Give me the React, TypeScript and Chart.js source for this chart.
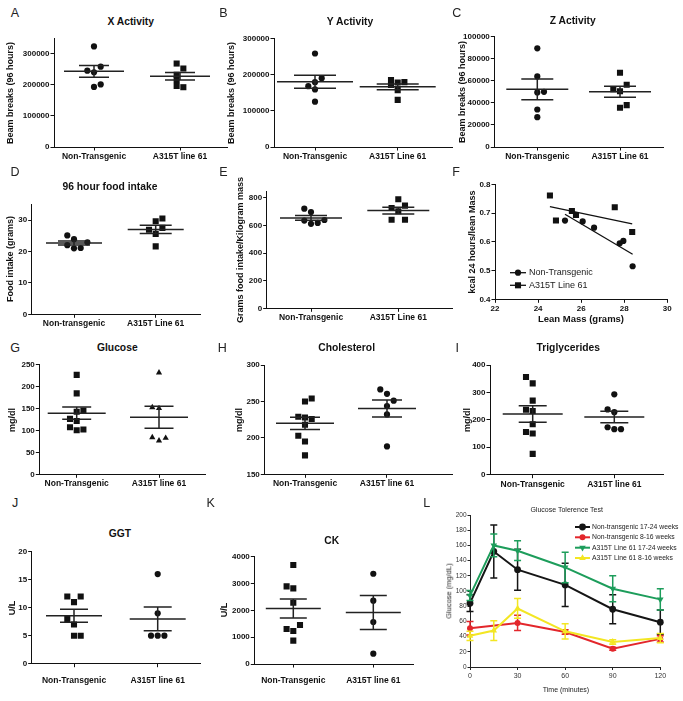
import React, { useEffect, useRef } from 'react';
import { Chart, registerables } from 'chart.js';
import { drawPoint } from 'chart.js/helpers';
Chart.register(...registerables);

const FONT = "'Liberation Sans', Arial, Helvetica, sans-serif";
const INK = '#111';

// ---------------- DATA ----------------
// A: X Activity
const xActLabels = ['Non-Transgenic', 'A315T line 61'];
const xActTicks = [0, 100000, 200000, 300000];
const xActNonTg = [323000, 258000, 245000, 240000, 201000, 193000];
const xActNonTgJit = [0, 1, -1, 0, 1, 0];
const xActTg = [268000, 252000, 232000, 215000, 196000, 192000];
const xActTgJit = [-0.5, 0.5, -0.5, -0.5, -0.5, 0.5];
const xActMean = [243000, 227000];
const xActSem = [19000, 12000];

// B: Y Activity
const yActLabels = ['Non-Transgenic', 'A315T Line 61'];
const yActTicks = [0, 100000, 200000, 300000];
const yActNonTg = [258000, 190000, 179000, 168000, 159000, 125000];
const yActNonTgJit = [0, 1, 0, -1, 0, 0];
const yActTg = [185000, 178000, 179000, 171000, 157000, 130000];
const yActTgJit = [-1, 0, 1, -1, 0, 0];
const yActMean = [180000, 166000];
const yActSem = [18000, 8000];

// C: Z Activity
const zActLabels = ['Non-Transgenic', 'A315T Line 61'];
const zActTicks = [0, 20000, 40000, 60000, 80000, 100000];
const zActNonTg = [89500, 64000, 49500, 50000, 34000, 27000];
const zActNonTgJit = [0, 0, 0, 1, 0, 0];
const zActTg = [67300, 56500, 52300, 50500, 38000, 35600];
const zActTgJit = [0, 1, -1, 0, 1, 0];
const zActMean = [52300, 50000];
const zActSem = [9400, 5000];

// D: 96 hour food intake
const foodLabels = ['Non-transgenic', 'A315T Line 61'];
const foodTicks = [0, 10, 20, 30];
const foodNonTg = [25.1, 23.9, 22.9, 22.0, 21.1, 21.0];
const foodNonTgJit = [-1, 0, 2, -1, 1, 0];
const foodTg = [30.5, 29.6, 26.9, 27.5, 25.6, 21.6];
const foodTgJit = [1, 0, -1, 1, 0, 0];
const foodMean = [22.7, 27.0];
const foodSem = [0.65, 1.3];

// E: grams food intake / kg mass
const perKgLabels = ['Non-Transgenic', 'A315T Line 61'];
const perKgTicks = [0, 200, 400, 600, 800];
const perKgNonTg = [722, 698, 636, 640, 612, 619];
const perKgNonTgJit = [-1, 0, -1, 2, 0, 1];
const perKgTg = [790, 744, 727, 703, 642, 642];
const perKgTgJit = [0, 1, -1, 0, -1, 1];
const perKgMean = [655, 708];
const perKgSem = [17, 24];

// F: kcal vs lean mass
const leanTicks = [22, 24, 26, 28, 30];
const kcalTicks = [0.4, 0.5, 0.6, 0.7, 0.8];
const leanNonTg = [25.25, 26.07, 26.6, 27.79, 27.96, 28.39];
const kcalNonTg = [0.674, 0.671, 0.649, 0.595, 0.603, 0.515];
const leanTg = [24.55, 24.83, 25.57, 25.76, 27.56, 28.37];
const kcalTg = [0.761, 0.674, 0.707, 0.693, 0.72, 0.634];
const fLegend = ['Non-Transgenic', 'A315T Line 61'];

// G: Glucose
const gluLabels = ['Non-Transgenic', 'A315T line 61'];
const gluTicks = [0, 50, 100, 150, 200, 250];
const gluNonTg = [226, 184, 142, 145, 126, 121, 107, 100, 102];
const gluNonTgJit = [0, 0, 0, 1, -1, 0, -1, 0, 1];
const gluTg = [231, 152, 150, 84, 76.5, 82.5];
const gluTgJit = [0, -1, 0, -1, 0, 1];
const gluMean = [139, 129.5];
const gluSem = [13.7, 25];

// H: Cholesterol
const cholLabels = ['Non-Transgenic', 'A315T line 61'];
const cholTicks = [150, 200, 250, 300];
const cholNonTg = [254, 250, 229, 228, 226, 218, 203, 195, 176];
const cholNonTgJit = [1, 0, -1, 0, 1, 0, -1, 0, 0];
const cholTg = [266.5, 260.5, 251, 243.6, 232.2, 188.3];
const cholTgJit = [-1, 0, 1, 0, 0, 0];
const cholMean = [220, 240.3];
const cholSem = [8.4, 11.5];

// I: Triglycerides
const trigLabels = ['Non-Transgenic', 'A315T line 61'];
const trigTicks = [0, 100, 200, 300, 400];
const trigNonTg = [356, 333, 270, 237, 232, 184, 156, 150, 76];
const trigNonTgJit = [-1, 0, 0, -1, 0, 0, -1, 0, 0];
const trigTg = [293, 238, 228, 173, 166, 166];
const trigTgJit = [0, -1, 0, -1, 0, 1];
const trigMean = [221.6, 210.7];
const trigSem = [30, 21];

// J: GGT
const ggtLabels = ['Non-Transgenic', 'A315T line 61'];
const ggtTicks = [0, 5, 10, 15, 20];
const ggtNonTg = [12, 12, 11, 8, 7, 5, 5];
const ggtNonTgJit = [-1, 1, 0, -1, 0, 0, 1];
const ggtTg = [16, 9, 5, 5, 5];
const ggtTgJit = [0, 0, -1, 0, 1];
const ggtMean = [8.57, 8];
const ggtSem = [1.17, 2.12];

// K: CK
const ckLabels = ['Non-Transgenic', 'A315T line 61'];
const ckTicks = [0, 1000, 2000, 3000, 4000];
const ckNonTg = [3690, 2895, 2820, 2285, 1455, 1305, 1230, 870];
const ckNonTgJit = [0, -1, 0, 0, 1, -1, 0, 0];
const ckTg = [3365, 2360, 1565, 385];
const ckTgJit = [0, 0, 0, 0];
const ckMean = [2069, 1919];
const ckSem = [355, 630];

// L: Glucose tolerance test
const gttTimes = [0, 15, 30, 60, 90, 120];
const gttTimeTicks = [0, 30, 60, 90, 120];
const gttGluTicks = [0, 20, 40, 60, 80, 100, 120, 140, 160, 180, 200];
const gttNames = ['Non-transgenic 17-24 weeks', 'Non-transgenic 8-16 weeks', 'A315T Line 61 17-24 weeks', 'A315T Line 61 8-16 weeks'];
const gttNonTg1724 = [84, 152, 128, 108, 76, 59];
const gttNonTg1724Sem = [11, 35, 27, 28.5, 19, 16];
const gttNonTg816 = [51, null, 58, 46, 24, 37];
const gttNonTg816Sem = [9, null, 10, 3, 2, 4];
const gttTg1724 = [94, 160, 153, 131, 103, 89];
const gttTg1724Sem = [6.5, 15, 13, 20, 17, 14];
const gttTg816 = [41, 48, 77, 47, 33, 38];
const gttTg816Sem = [6, 13, 13, 10, 3, 6];

// ---------------- HELPERS ----------------
function linFit(xs: number[], ys: number[]) {
  const n = xs.length;
  const mx = xs.reduce((a, b) => a + b, 0) / n;
  const my = ys.reduce((a, b) => a + b, 0) / n;
  let sxy = 0, sxx = 0;
  for (let i = 0; i < n; i++) { sxy += (xs[i] - mx) * (ys[i] - my); sxx += (xs[i] - mx) ** 2; }
  const slope = sxy / sxx;
  return { slope, intercept: my - slope * mx, x0: Math.min(...xs), x1: Math.max(...xs) };
}

function radiusFor(style: string) {
  if (style === 'rect') return 4.3;
  if (style === 'triangle') return 3.6;
  return 3.1;
}

type Group = { values: number[]; jitter: number[]; style: string };
type ScatterSpec = {
  canvas: number[]; area: number[]; cats: number[]; labels: string[];
  yMin: number; yMax: number; yTicks: number[]; groups: Group[];
  means: number[]; sems: number[]; meanHalf: number; semHalf: number; labelPad?: number;
};

const tickFont = { family: FONT, size: 8, weight: 'bold' as const };
const catFont = { family: FONT, size: 8.5, weight: 'bold' as const };

function axisBase(extra: any) {
  return {
    grid: { display: true, drawOnChartArea: false, drawTicks: true, tickLength: 3.5, color: INK, lineWidth: 1 },
    border: { display: true, color: INK, width: 1 },
    ...extra,
  };
}

function baseOptions(canvas: number[], area: number[]) {
  return {
    animation: false,
    responsive: false,
    events: [],
    layout: { autoPadding: false, padding: { left: 0, top: area[1] - canvas[1], right: canvas[2] - area[2], bottom: 0 } },
    plugins: { legend: { display: false }, tooltip: { enabled: false }, title: { display: false } },
  };
}

function scatterConfig(s: ScatterSpec) {
  const [cx0, cy0, cx1, cy1] = s.canvas;
  const [al, at, ar, ab] = s.area;
  const u = s.cats[1] - s.cats[0];
  const xmin = (al - s.cats[0]) / u;
  const xmax = 1 + (ar - s.cats[1]) / u;
  const step = 6.7 / u;
  const datasets = s.groups.map((g, gi) => ({
    type: 'scatter',
    data: g.values.map((v, i) => ({ x: gi + g.jitter[i] * step, y: v })),
    pointStyle: g.style,
    pointRadius: radiusFor(g.style),
    pointBackgroundColor: INK,
    pointBorderColor: INK,
    pointBorderWidth: 0,
  }));
  const meanSem = {
    id: 'meanSem',
    afterDatasetsDraw(chart: any) {
      const { ctx, scales } = chart;
      const x = scales.x, y = scales.y;
      ctx.save();
      ctx.strokeStyle = '#222';
      ctx.lineWidth = 1.5;
      s.means.forEach((m, i) => {
        const px = x.getPixelForValue(i);
        const ym = y.getPixelForValue(m);
        const yu = y.getPixelForValue(m + s.sems[i]);
        const yl = y.getPixelForValue(m - s.sems[i]);
        ctx.beginPath();
        ctx.moveTo(px - s.meanHalf, ym); ctx.lineTo(px + s.meanHalf, ym);
        ctx.moveTo(px - s.semHalf, yu); ctx.lineTo(px + s.semHalf, yu);
        ctx.moveTo(px - s.semHalf, yl); ctx.lineTo(px + s.semHalf, yl);
        ctx.moveTo(px, yu); ctx.lineTo(px, yl);
        ctx.stroke();
      });
      ctx.restore();
    },
  };
  return {
    type: 'scatter',
    data: { datasets },
    options: {
      ...baseOptions(s.canvas, s.area),
      scales: {
        x: axisBase({
          type: 'linear', min: xmin, max: xmax,
          afterBuildTicks: (sc: any) => { sc.ticks = [{ value: 0 }, { value: 1 }]; },
          ticks: { callback: (_v: any, i: number) => s.labels[i], font: catFont, color: INK, padding: s.labelPad ?? 1, maxRotation: 0, autoSkip: false },
          afterFit: (sc: any) => { sc.height = cy1 - ab; },
        }),
        y: axisBase({
          type: 'linear', min: s.yMin, max: s.yMax,
          afterBuildTicks: (sc: any) => { sc.ticks = s.yTicks.map((v) => ({ value: v })); },
          ticks: { callback: (_v: any, i: number) => String(s.yTicks[i]), font: tickFont, color: INK, padding: 1, autoSkip: false },
          afterFit: (sc: any) => { sc.width = al - cx0; },
        }),
      },
    },
    plugins: [meanSem],
  };
}

type LegendItem = { label: string; style: string; color: string; rotation?: number; radius: number; lineWidth: number };
function legendPlugin(canvas: number[], items: LegendItem[], x0: number, x1: number, textX: number, ys: number[], font: any, textColor: string) {
  return {
    id: 'innerLegend',
    afterDraw(chart: any) {
      const ctx = chart.ctx;
      ctx.save();
      items.forEach((it, i) => {
        const y = ys[i] - canvas[1];
        const a = x0 - canvas[0], b = x1 - canvas[0];
        ctx.strokeStyle = it.color;
        ctx.lineWidth = it.lineWidth;
        ctx.beginPath(); ctx.moveTo(a, y); ctx.lineTo(b, y); ctx.stroke();
        ctx.fillStyle = it.color;
        drawPoint(ctx, { pointStyle: it.style, radius: it.radius, rotation: it.rotation || 0, borderWidth: 0 } as any, (a + b) / 2, y);
        ctx.fillStyle = textColor;
        ctx.font = `${font.weight || 'normal'} ${font.size}px ${FONT}`;
        ctx.textBaseline = 'middle';
        ctx.textAlign = 'left';
        ctx.fillText(it.label, textX - canvas[0], y);
      });
      ctx.restore();
    },
  };
}

function leanConfig() {
  const canvas = [456, 175, 683, 330];
  const area = [495, 184.3, 667.3, 299.3];
  const fitN = linFit(leanNonTg, kcalNonTg);
  const fitT = linFit(leanTg, kcalTg);
  const lineOf = (f: any) => [{ x: f.x0, y: f.intercept + f.slope * f.x0 }, { x: f.x1, y: f.intercept + f.slope * f.x1 }];
  return {
    type: 'scatter',
    data: {
      datasets: [
        { type: 'scatter', data: leanNonTg.map((x, i) => ({ x, y: kcalNonTg[i] })), pointStyle: 'circle', pointRadius: 3.1, pointBackgroundColor: INK, pointBorderWidth: 0 },
        { type: 'scatter', data: leanTg.map((x, i) => ({ x, y: kcalTg[i] })), pointStyle: 'rect', pointRadius: 4.3, pointBackgroundColor: INK, pointBorderWidth: 0 },
        { type: 'line', data: lineOf(fitN), borderColor: INK, borderWidth: 1.3, pointRadius: 0, showLine: true },
        { type: 'line', data: lineOf(fitT), borderColor: INK, borderWidth: 1.3, pointRadius: 0, showLine: true },
      ],
    },
    options: {
      ...baseOptions(canvas, area),
      scales: {
        x: axisBase({
          type: 'linear', min: leanTicks[0], max: leanTicks[leanTicks.length - 1],
          afterBuildTicks: (sc: any) => { sc.ticks = leanTicks.map((v) => ({ value: v })); },
          ticks: { callback: (_v: any, i: number) => String(leanTicks[i]), font: tickFont, color: INK, padding: 1, maxRotation: 0 },
          afterFit: (sc: any) => { sc.height = canvas[3] - area[3]; },
        }),
        y: axisBase({
          type: 'linear', min: kcalTicks[0], max: kcalTicks[kcalTicks.length - 1],
          afterBuildTicks: (sc: any) => { sc.ticks = kcalTicks.map((v) => ({ value: v })); },
          ticks: { callback: (_v: any, i: number) => String(kcalTicks[i]), font: tickFont, color: INK, padding: 1 },
          afterFit: (sc: any) => { sc.width = area[0] - canvas[0]; },
        }),
      },
    },
    plugins: [legendPlugin(canvas, [
      { label: fLegend[0], style: 'circle', color: INK, radius: 3.1, lineWidth: 1.3 },
      { label: fLegend[1], style: 'rect', color: INK, radius: 4.3, lineWidth: 1.3 },
    ], 510, 526, 529, [272.7, 285.3], { size: 9, weight: 'normal' }, '#222')],
  };
}

const GTT_COLORS = ['#151515', '#e3262b', '#1d9d5b', '#f3e623'];
const GTT_STYLES = [
  { style: 'circle', rotation: 0, radius: 3.4 },
  { style: 'circle', rotation: 0, radius: 3 },
  { style: 'triangle', rotation: 180, radius: 3.8 },
  { style: 'triangle', rotation: 0, radius: 3.8 },
];

function gttConfig() {
  const canvas = [440, 505, 683, 700];
  const area = [470, 515, 660.3, 667];
  const series = [gttNonTg1724, gttNonTg816, gttTg1724, gttTg816];
  const sems = [gttNonTg1724Sem, gttNonTg816Sem, gttTg1724Sem, gttTg816Sem];
  const order = [3, 2, 1, 0];
  const datasets = series.map((vals, k) => ({
    type: 'line',
    label: gttNames[k],
    data: gttTimes.map((t, i) => ({ x: t, y: vals[i] })),
    borderColor: GTT_COLORS[k],
    backgroundColor: GTT_COLORS[k],
    borderWidth: 2,
    pointStyle: GTT_STYLES[k].style,
    pointRotation: GTT_STYLES[k].rotation,
    pointRadius: GTT_STYLES[k].radius,
    pointBackgroundColor: GTT_COLORS[k],
    pointBorderColor: GTT_COLORS[k],
    pointBorderWidth: 0,
    spanGaps: true,
    order: order[k],
    tension: 0,
  }));
  const errPlugin = {
    id: 'errBars',
    beforeDatasetDraw(chart: any, args: any) {
      const k = args.index;
      const { ctx, scales } = chart;
      ctx.save();
      ctx.strokeStyle = GTT_COLORS[k];
      ctx.lineWidth = 1.5;
      gttTimes.forEach((t, i) => {
        const v = series[k][i];
        const e = sems[k][i];
        if (v == null || e == null) return;
        const px = scales.x.getPixelForValue(t);
        const yu = scales.y.getPixelForValue(v + e);
        const yl = scales.y.getPixelForValue(v - e);
        ctx.beginPath();
        ctx.moveTo(px, yu); ctx.lineTo(px, yl);
        ctx.moveTo(px - 3.5, yu); ctx.lineTo(px + 3.5, yu);
        ctx.moveTo(px - 3.5, yl); ctx.lineTo(px + 3.5, yl);
        ctx.stroke();
      });
      ctx.restore();
    },
  };
  const lf = { family: FONT, size: 6.5, weight: 'normal' as const };
  return {
    type: 'line',
    data: { datasets },
    options: {
      ...baseOptions(canvas, area),
      clip: false,
      scales: {
        x: axisBase({
          type: 'linear', min: 0, max: 120,
          afterBuildTicks: (sc: any) => { sc.ticks = gttTimeTicks.map((v) => ({ value: v })); },
          ticks: { callback: (_v: any, i: number) => String(gttTimeTicks[i]), font: { ...lf, size: 7 }, color: '#333', padding: 2, maxRotation: 0 },
          grid: { display: true, drawOnChartArea: false, tickLength: 3, color: '#222', lineWidth: 1 },
          border: { display: true, color: '#222', width: 1 },
          afterFit: (sc: any) => { sc.height = canvas[3] - area[3]; },
        }),
        y: axisBase({
          type: 'linear', min: 0, max: 200,
          afterBuildTicks: (sc: any) => { sc.ticks = gttGluTicks.map((v) => ({ value: v })); },
          ticks: { callback: (_v: any, i: number) => String(gttGluTicks[i]), font: lf, color: '#333', padding: 1 },
          grid: { display: true, drawOnChartArea: false, tickLength: 2.5, color: '#222', lineWidth: 1 },
          border: { display: true, color: '#222', width: 1 },
          afterFit: (sc: any) => { sc.width = area[0] - canvas[0]; },
        }),
      },
    },
    plugins: [errPlugin, legendPlugin(canvas, gttNames.map((n, k) => ({
      label: n, style: GTT_STYLES[k].style, rotation: GTT_STYLES[k].rotation, color: GTT_COLORS[k], radius: GTT_STYLES[k].radius, lineWidth: 2,
    })), 575, 590, 592, [527, 537.3, 547.7, 558], { size: 6.8, weight: 'normal' }, '#222')],
  };
}

// ---------------- PANELS ----------------
const panels: ScatterSpec[] = [
  { canvas: [0, 28, 235, 165], area: [54, 38, 227, 147], cats: [94, 180], labels: xActLabels, yMin: 0, yMax: 350000, yTicks: xActTicks,
    groups: [{ values: xActNonTg, jitter: xActNonTgJit, style: 'circle' }, { values: xActTg, jitter: xActTgJit, style: 'rect' }],
    means: xActMean, sems: xActSem, meanHalf: 30, semHalf: 15 },
  { canvas: [226, 28, 458, 165], area: [274, 38.3, 452, 147], cats: [315, 397.7], labels: yActLabels, yMin: 0, yMax: 300000, yTicks: yActTicks,
    groups: [{ values: yActNonTg, jitter: yActNonTgJit, style: 'circle' }, { values: yActTg, jitter: yActTgJit, style: 'rect' }],
    means: yActMean, sems: yActSem, meanHalf: 38, semHalf: 21 },
  { canvas: [456, 28, 683, 165], area: [494.3, 36.7, 663, 147], cats: [537.3, 620], labels: zActLabels, yMin: 0, yMax: 100000, yTicks: zActTicks,
    groups: [{ values: zActNonTg, jitter: zActNonTgJit, style: 'circle' }, { values: zActTg, jitter: zActTgJit, style: 'rect' }],
    means: zActMean, sems: zActSem, meanHalf: 31, semHalf: 16 },
  { canvas: [0, 195, 235, 332], area: [31.7, 204.3, 200, 314.3], cats: [74, 155.7], labels: foodLabels, yMin: 0, yMax: 35, yTicks: foodTicks,
    groups: [{ values: foodNonTg, jitter: foodNonTgJit, style: 'circle' }, { values: foodTg, jitter: foodTgJit, style: 'rect' }],
    means: foodMean, sems: foodSem, meanHalf: 28, semHalf: 16 },
  { canvas: [226, 180, 458, 326], area: [266.7, 191, 452, 308.3], cats: [311, 398.3], labels: perKgLabels, yMin: 0, yMax: 850, yTicks: perKgTicks,
    groups: [{ values: perKgNonTg, jitter: perKgNonTgJit, style: 'circle' }, { values: perKgTg, jitter: perKgTgJit, style: 'rect' }],
    means: perKgMean, sems: perKgSem, meanHalf: 31, semHalf: 16 },
  { canvas: [0, 355, 235, 492], area: [39.3, 364.3, 205, 474.3], cats: [76.7, 159], labels: gluLabels, yMin: 0, yMax: 250, yTicks: gluTicks,
    groups: [{ values: gluNonTg, jitter: gluNonTgJit, style: 'rect' }, { values: gluTg, jitter: gluTgJit, style: 'triangle' }],
    means: gluMean, sems: gluSem, meanHalf: 29, semHalf: 14.5 },
  { canvas: [226, 355, 458, 492], area: [264.3, 365, 452, 474.3], cats: [305, 387], labels: cholLabels, yMin: 150, yMax: 300, yTicks: cholTicks,
    groups: [{ values: cholNonTg, jitter: cholNonTgJit, style: 'rect' }, { values: cholTg, jitter: cholTgJit, style: 'circle' }],
    means: cholMean, sems: cholSem, meanHalf: 29, semHalf: 15 },
  { canvas: [456, 355, 683, 492], area: [490, 365, 663, 474.7], cats: [532.7, 614.3], labels: trigLabels, yMin: 0, yMax: 400, yTicks: trigTicks,
    groups: [{ values: trigNonTg, jitter: trigNonTgJit, style: 'rect' }, { values: trigTg, jitter: trigTgJit, style: 'circle' }],
    means: trigMean, sems: trigSem, meanHalf: 30, semHalf: 14 },
  { canvas: [0, 540, 235, 698], area: [31.7, 551.7, 200, 663.7], cats: [74, 157.7], labels: ggtLabels, yMin: 0, yMax: 20, yTicks: ggtTicks,
    groups: [{ values: ggtNonTg, jitter: ggtNonTgJit, style: 'rect' }, { values: ggtTg, jitter: ggtTgJit, style: 'circle' }],
    means: ggtMean, sems: ggtSem, meanHalf: 28, semHalf: 14, labelPad: 8 },
  { canvas: [215, 540, 425, 698], area: [254.3, 556.7, 413, 664], cats: [293.3, 373.3], labels: ckLabels, yMin: 0, yMax: 4000, yTicks: ckTicks,
    groups: [{ values: ckNonTg, jitter: ckNonTgJit, style: 'rect' }, { values: ckTg, jitter: ckTgJit, style: 'circle' }],
    means: ckMean, sems: ckSem, meanHalf: 27.5, semHalf: 13.5, labelPad: 8 },
];

const panelLetters: [string, number, number][] = [
  ['A', 15, 13.3], ['B', 223.3, 13.3], ['C', 456.7, 13.3],
  ['D', 15, 171.7], ['E', 223.3, 171.7], ['F', 456, 171.7],
  ['G', 15, 348.3], ['H', 222.3, 348.3], ['I', 457.3, 348.3],
  ['J', 15, 503.3], ['K', 210.7, 503.3], ['L', 426.7, 503.3],
];

const chartTitles: [string, number, number][] = [
  ['X Activity', 130.7, 21.7], ['Y Activity', 350, 21.7], ['Z Activity', 572.7, 20.7],
  ['96 hour food intake', 110, 187.3], ['Glucose', 117.3, 348.3], ['Cholesterol', 346.7, 348.3],
  ['Triglycerides', 568.3, 348.3], ['GGT', 120, 534.3], ['CK', 331.7, 541],
];

const yTitles: [string, number, number][] = [
  ['Beam breaks (96 hours)', 10.3, 92.5], ['Beam breaks (96 hours)', 231, 92.7], ['Beam breaks (96 hours)', 461.7, 92],
  ['Food intake (grams)', 10, 259.3], ['Grams food intake/Kilogram mass', 240, 249.7], ['kcal 24 hours/lean Mass', 471.7, 241.8],
  ['mg/dl', 11.7, 419.5], ['mg/dl', 239, 419.7], ['mg/dl', 466.7, 419.8],
  ['U/L', 11.7, 607.7], ['U/L', 224, 610.3],
];

// ---------------- COMPONENTS ----------------
function ChartBox({ box, make }: { box: number[]; make: () => any }) {
  const ref = useRef<HTMLCanvasElement>(null);
  useEffect(() => {
    const chart = new Chart(ref.current as HTMLCanvasElement, make());
    return () => chart.destroy();
  }, []);
  const w = box[2] - box[0], h = box[3] - box[1];
  return (
    <div style={{ position: 'absolute', left: box[0], top: box[1], width: w, height: h }}>
      <canvas ref={ref} width={w} height={h} style={{ width: w, height: h, display: 'block' }} />
    </div>
  );
}

function Txt({ x, y, text, size, weight = 'bold', rot = 0, color = INK }: any) {
  return (
    <div style={{
      position: 'absolute', left: x, top: y, transform: `translate(-50%, -50%)${rot ? ` rotate(${rot}deg)` : ''}`,
      fontFamily: FONT, fontSize: size, fontWeight: weight, whiteSpace: 'nowrap', color, lineHeight: 1,
    }}>{text}</div>
  );
}

export default function App() {
  return (
    <div style={{ position: 'absolute', left: 0, top: 0, width: 683, height: 701, background: '#fff', overflow: 'hidden' }}>
      {panels.map((p, i) => <ChartBox key={i} box={p.canvas} make={() => scatterConfig(p)} />)}
      <ChartBox box={[456, 175, 683, 330]} make={leanConfig} />
      <ChartBox box={[440, 505, 683, 700]} make={gttConfig} />
      {panelLetters.map(([t, x, y]) => <Txt key={t} x={x} y={y} text={t} size={12.5} weight="normal" color="#222" />)}
      {chartTitles.map(([t, x, y]) => <Txt key={t} x={x} y={y} text={t} size={10.3} />)}
      {yTitles.map(([t, x, y], i) => <Txt key={i} x={x} y={y} text={t} size={9} rot={-90} />)}
      <Txt x={581} y={319.3} text="Lean Mass (grams)" size={9.5} />
      <Txt x={566.7} y={509.3} text="Glucose Tolerence Test" size={7} weight="normal" color="#222" />
      <Txt x={449} y={591} text="Glucose (mg/dL)" size={7.5} weight="normal" color="#222" rot={-90} />
      <Txt x={566} y={689} text="Time (minutes)" size={7} weight="normal" color="#222" />
    </div>
  );
}
